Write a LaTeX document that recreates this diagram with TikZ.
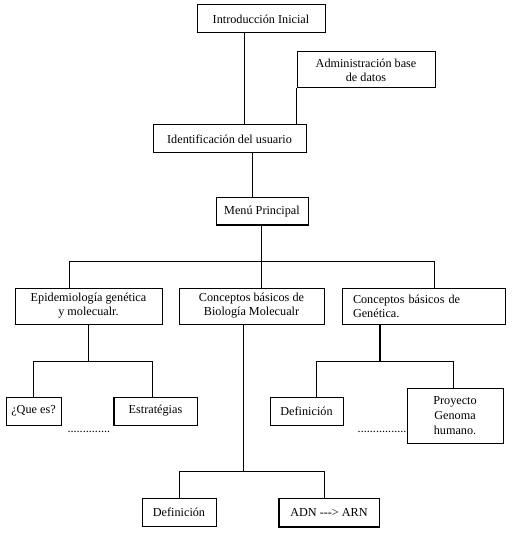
\documentclass[tikz,border=0pt]{standalone}
\usepackage{fontspec}
\setmainfont{Liberation Serif}
\begin{document}
\begin{tikzpicture}[x=1pt,y=-1pt,line width=1pt,
  box/.style={draw,line width=1pt,inner sep=0pt,align=center,font=\fontsize{12.2}{14}\selectfont},
  dotsline/.style={inner sep=0pt,font=\fontsize{12.2}{14}\selectfont},
  thickline/.style={line width=2.2pt}]
\useasboundingbox (0,0) rectangle (513,534);
\fill[white] (0,0) rectangle (513,534);
% boxes
\node[box,minimum width=128,minimum height=28] (intro) at (261,19) {Introducción Inicial};
\node[box,minimum width=138,minimum height=36] (admin) at (366,70) {Administración base\\de datos};
\node[box,minimum width=153,minimum height=28] (ident) at (229.5,139) {Identificación del usuario};
\node[box,minimum width=92,minimum height=27] (menu) at (262,211.5) {Menú Principal};
\node[box,minimum width=147,minimum height=36] (epi) at (88.5,306) {Epidemiología genética\\y molecualr.};
\node[box,minimum width=145,minimum height=36] (bio) at (251.5,306) {Conceptos básicos de\\Biología Molecualr};
\node[box,minimum width=163,minimum height=36,text width=141pt,align=left] (gen) at (423.5,306) {Conceptos básicos de\\Genética.};
\node[box,minimum width=55,minimum height=28] (que) at (33.5,411) {¿Que es?};
\node[box,minimum width=83,minimum height=28] (estr) at (155.5,411) {Estratégias};
\node[box,minimum width=73,minimum height=28] (def1) at (306.5,411) {Definición};
\node[box,minimum width=96,minimum height=55,font=\fontsize{12.2}{14.6}\selectfont] (proy) at (455,415.5) {Proyecto\\Genoma\\humano.};
\node[box,minimum width=74,minimum height=28] (def2) at (179,512) {Definición};
\node[box,minimum width=100,minimum height=28] (adn) at (329,512) {ADN -{}-{}-> ARN};
% thicker edges
\draw[line width=2pt] (estr.north west) -- (estr.south west);
\draw[line width=2pt] (adn.north west) -- (adn.south west) -- (adn.south east);
% dots
\node[dotsline,anchor=base west] (dots1) at (67,432) {..............};
\node[dotsline,anchor=base east] (dots2) at (407,432) {................};
% connectors
\draw ([xshift=-17pt]intro.south) -- ([xshift=-17pt]intro.south |- ident.north);
\draw (admin.south west) -- (admin.south west |- ident.north);
\draw ([xshift=-10pt]menu.north) -- ([xshift=-10pt]menu.north |- ident.south);
\coordinate (bus) at (261,261);
\draw ([xshift=-1pt]menu.south) -- (bus);
\draw ([xshift=-19.5pt]epi.north) -- ([xshift=-19.5pt]epi.north |- bus) -- ([xshift=10.5pt]gen.north |- bus) -- ([xshift=10.5pt]gen.north);
\draw ([xshift=9.5pt]bio.north) -- ([xshift=9.5pt]bio.north |- bus);
% epi children
\coordinate (ebus) at (88,361);
\draw ([xshift=-0.5pt]epi.south) -- (ebus);
\draw (que.north -| 33,0) -- (33,361) -- (152,361) -- (estr.north -| 152,0);
% bio children
\coordinate (bbus) at (243,471);
\draw ([xshift=-8.5pt]bio.south) -- (bbus);
\draw (def2.north) -- (def2.north |- bbus) -- ([xshift=-5pt]adn.north |- bbus) -- ([xshift=-5pt]adn.north);
% gen children
\coordinate (gbus) at (380,361);
\draw[thickline] ([xshift=-43.5pt]gen.south) -- (gbus);
\draw ([xshift=9.5pt]def1.north) -- ([xshift=9.5pt]def1.north |- gbus) -- ([xshift=-2pt]proy.north |- gbus) -- ([xshift=-2pt]proy.north);
\end{tikzpicture}
\end{document}
